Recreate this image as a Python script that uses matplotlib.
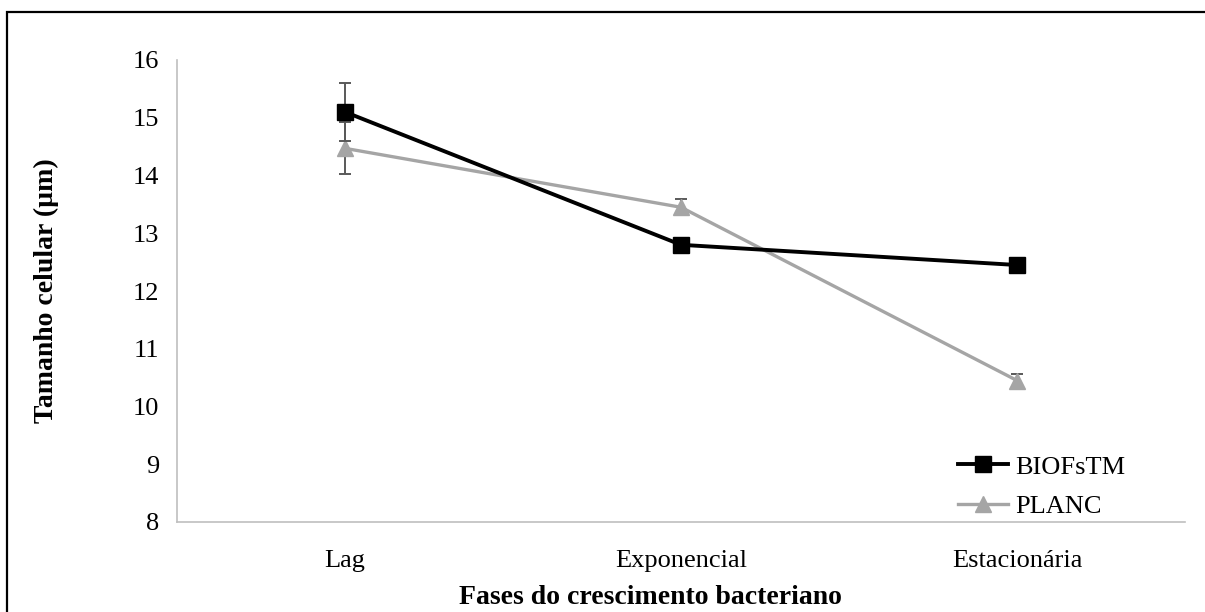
import numpy as np
import matplotlib.pyplot as plt
from matplotlib.patches import Rectangle

plt.rcParams['font.family'] = ['Liberation Serif', 'DejaVu Serif']

# growth phases
phases = ['Lag', 'Exponencial', 'Estacionária']
# cell size (um) and standard error
biof = [15.1, 12.8, 12.45]
biof_err = [0.5, 0.1, 0.05]
planc = [14.47, 13.45, 10.45]
planc_err = [0.45, 0.14, 0.12]

fig = plt.figure(figsize=(12.05, 6.12), dpi=100)
ax = fig.add_axes([177/1205, 1-522/612, (1185-177)/1205, (522-60)/612])

x = np.arange(len(phases))
ax.errorbar(x, biof, yerr=biof_err, color='black', lw=2.8, marker='s', ms=11.5,
            ecolor='#595959', elinewidth=1.4, capsize=4.5, capthick=1.4,
            label='BIOFsTM', zorder=3)
ax.errorbar(x, planc, yerr=planc_err, color='#a5a5a5', lw=2.4, marker='^', ms=11.5,
            ecolor='#595959', elinewidth=1.4, capsize=4.5, capthick=1.4,
            label='PLANC', zorder=2)

ax.set_xlim(-0.5, 2.5)
ax.set_ylim(8, 16)
ax.set_xticks(x)
ax.set_xticklabels(phases)
ax.set_yticks(range(8, 17))
ax.tick_params(axis='both', length=0, labelsize=19)
ax.tick_params(axis='y', pad=13)
ax.tick_params(axis='x', pad=20)
for s in ['top', 'right']:
    ax.spines[s].set_visible(False)
for s in ['left', 'bottom']:
    ax.spines[s].set_color('#bfbfbf')
    ax.spines[s].set_linewidth(1.2)

h, l = ax.get_legend_handles_labels()
h = [hh[0] for hh in h]
fig.legend(h, l, loc='center left', bbox_to_anchor=(958/1205, 1-486.5/612),
           frameon=False, fontsize=19, handlelength=1.9, handletextpad=0.25,
           labelspacing=0.6, borderpad=0, borderaxespad=0)

fig.text(650/1205, 1-597/612, 'Fases do crescimento bacteriano', ha='center',
         va='center', fontsize=20, fontweight='bold')
fig.text(46/1205, 1-291/612, 'Tamanho celular (µm)', ha='center', va='center',
         rotation=90, fontsize=20, fontweight='bold')

# outer frame of the chart area
fig.patches.append(Rectangle((7.5/1205, -0.05), 1.1, 0.05 + 1-12/612,
                             transform=fig.transFigure, fill=False,
                             edgecolor='black', lw=1.6))

fig.savefig('out.png', dpi=100)
